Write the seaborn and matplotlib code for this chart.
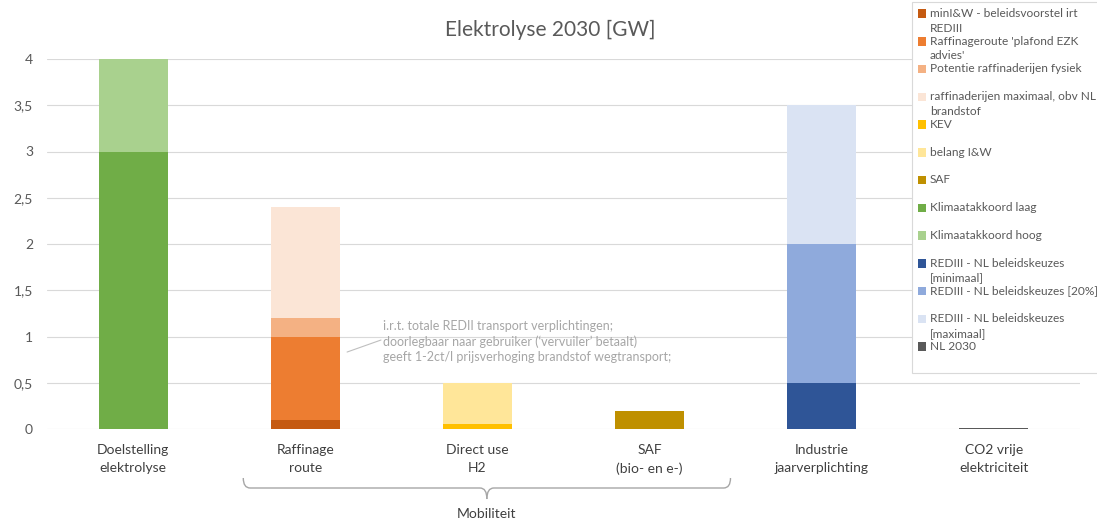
import numpy as np
import matplotlib
matplotlib.use("Agg")
import matplotlib.pyplot as plt
import seaborn as sns
from matplotlib.patches import Patch, PathPatch, Rectangle
from matplotlib.path import Path
from matplotlib.transforms import blended_transform_factory
from matplotlib.legend_handler import HandlerPatch

categories = ["Doelstelling\nelektrolyse", "Raffinage\nroute", "Direct use\nH2",
              "SAF\n(bio- en e-)", "Industrie\njaarverplichting", "CO2 vrije\nelektriciteit"]

series_names = [
    "minI&W - beleidsvoorstel irt\nREDIII",
    "Raffinageroute 'plafond EZK\nadvies'",
    "Potentie raffinaderijen fysiek\n",
    "raffinaderijen maximaal, obv NL\nbrandstof",
    "KEV\n",
    "belang I&W\n",
    "SAF\n",
    "Klimaatakkoord laag\n",
    "Klimaatakkoord hoog\n",
    "REDIII - NL beleidskeuzes\n[minimaal]",
    "REDIII - NL beleidskeuzes [20%]\n",
    "REDIII - NL beleidskeuzes\n[maximaal]",
    "NL 2030\n",
]
series_colors = ["#C55A11", "#ED7D31", "#F4B183", "#FBE5D6", "#FFC000", "#FFE699",
                 "#BF9000", "#70AD47", "#A9D18E", "#2F5597", "#8FAADC", "#DAE3F3", "#595959"]

minIW          = [0, 0.1, 0, 0, 0, 0]
raffinageroute = [0, 0.9, 0, 0, 0, 0]
potentie       = [0, 0.2, 0, 0, 0, 0]
raff_max       = [0, 1.2, 0, 0, 0, 0]
kev            = [0, 0, 0.05, 0, 0, 0]
belang_iw      = [0, 0, 0.45, 0, 0, 0]
saf            = [0, 0, 0, 0.2, 0, 0]
klimaat_laag   = [3.0, 0, 0, 0, 0, 0]
klimaat_hoog   = [1.0, 0, 0, 0, 0, 0]
rediii_min     = [0, 0, 0, 0, 0.5, 0]
rediii_20      = [0, 0, 0, 0, 1.5, 0]
rediii_max     = [0, 0, 0, 0, 1.5, 0]
nl2030         = [0, 0, 0, 0, 0, 0.015]

series_values = [minIW, raffinageroute, potentie, raff_max, kev, belang_iw, saf,
                 klimaat_laag, klimaat_hoog, rediii_min, rediii_20, rediii_max, nl2030]

ytick_vals = [0, 0.5, 1, 1.5, 2, 2.5, 3, 3.5, 4]
ytick_labels = ["0", "0,5", "1", "1,5", "2", "2,5", "3", "3,5", "4"]

title = "Elektrolyse 2030 [GW]"
group_label = "Mobiliteit"
note = ("i.r.t. totale REDII transport verplichtingen;\n"
        "doorlegbaar naar gebruiker (\u2018vervuiler\u2019 betaalt)\n"
        "geeft 1-2ct/l prijsverhoging brandstof wegtransport;")

sns.set_theme(style="white")
plt.rcParams["font.family"] = ["Lato", "DejaVu Sans"]

fig = plt.figure(figsize=(10.97, 5.21), dpi=100)
ax = fig.add_axes([47/1097, 1-429/521, (1080-47)/1097, (429-59)/521])

vals = np.array(series_values, dtype=float)
cum = np.cumsum(vals, axis=0)
for i in range(len(series_values) - 1, -1, -1):
    heights = np.where(vals[i] > 0, cum[i], 0.0)
    sns.barplot(x=categories, y=heights, order=categories, color=series_colors[i],
                saturation=1, width=0.4, ax=ax, linewidth=0, zorder=3)

ax.set_ylim(0, 4)
ax.set_xlim(-0.5, 5.5)
ax.set_yticks(ytick_vals)
ax.set_yticklabels(ytick_labels)
ax.set_xlabel("")
ax.set_ylabel("")
for s in ax.spines.values():
    s.set_visible(False)
ax.grid(axis="y", color="#d9d9d9", linewidth=0.8, zorder=0)
ax.set_axisbelow(True)
ax.tick_params(axis="y", length=0, pad=10, labelsize=10, labelcolor="#595959")
ax.tick_params(axis="x", length=0, pad=11, labelsize=10, labelcolor="#404040")
for t in ax.get_xticklabels():
    t.set_linespacing(1.55)

fig.text(550/1097, 1-30/521, title, ha="center", va="center", fontsize=15, color="#595959")

# annotation
ax.text(1.452, 1.18, note, ha="left", va="top", fontsize=9, color="#a6a6a6",
        linespacing=1.3, zorder=5)
ax.plot([1.243, 1.440], [0.832, 0.962], color="#bfbfbf", linewidth=0.8, zorder=5)

# brace under Mobiliteit group
tr = blended_transform_factory(ax.transData, fig.transFigure)
xl, xr = 0.64, 3.47
xc = (xl + xr) / 2
yt, ym, yb = 1-478/521, 1-488/521, 1-499/521
dx = 0.04
for a, sgn in ((xl, 1), (xr, -1)):
    verts = [(a, yt), (a, ym), (a + sgn*dx, ym), (xc - sgn*dx, ym), (xc, ym), (xc, yb)]
    codes = [Path.MOVETO, Path.CURVE3, Path.CURVE3, Path.LINETO, Path.CURVE3, Path.CURVE3]
    ax.add_patch(PathPatch(Path(verts, codes), transform=tr, fill=False,
                           edgecolor="#a6a6a6", linewidth=1, clip_on=False))
fig.text(487/1097, 1-514/521, group_label, ha="center", va="center", fontsize=10, color="#404040")


# legend: square marker aligned to first text line
def _top_square(legend, orig_handle, xdescent, ydescent, width, height, fontsize):
    return Rectangle((-xdescent, -ydescent + 5.4), width, height)


handles = [Patch(facecolor=c, edgecolor="none") for c in series_colors]
leg = fig.legend(handles, series_names, loc="upper left",
                 bbox_to_anchor=(912/1097, 1-2/521), fontsize=8.6, frameon=True,
                 fancybox=False, edgecolor="#d9d9d9", framealpha=1,
                 handlelength=0.7, handleheight=0.7, handletextpad=0.3,
                 labelspacing=0.18, borderpad=0.5, borderaxespad=0,
                 handler_map={Patch: HandlerPatch(patch_func=_top_square)})
leg.get_frame().set_linewidth(0.8)
for t in leg.get_texts():
    t.set_color("#595959")
    t.set_linespacing(1.4)

fig.savefig("out.png", dpi=100)
